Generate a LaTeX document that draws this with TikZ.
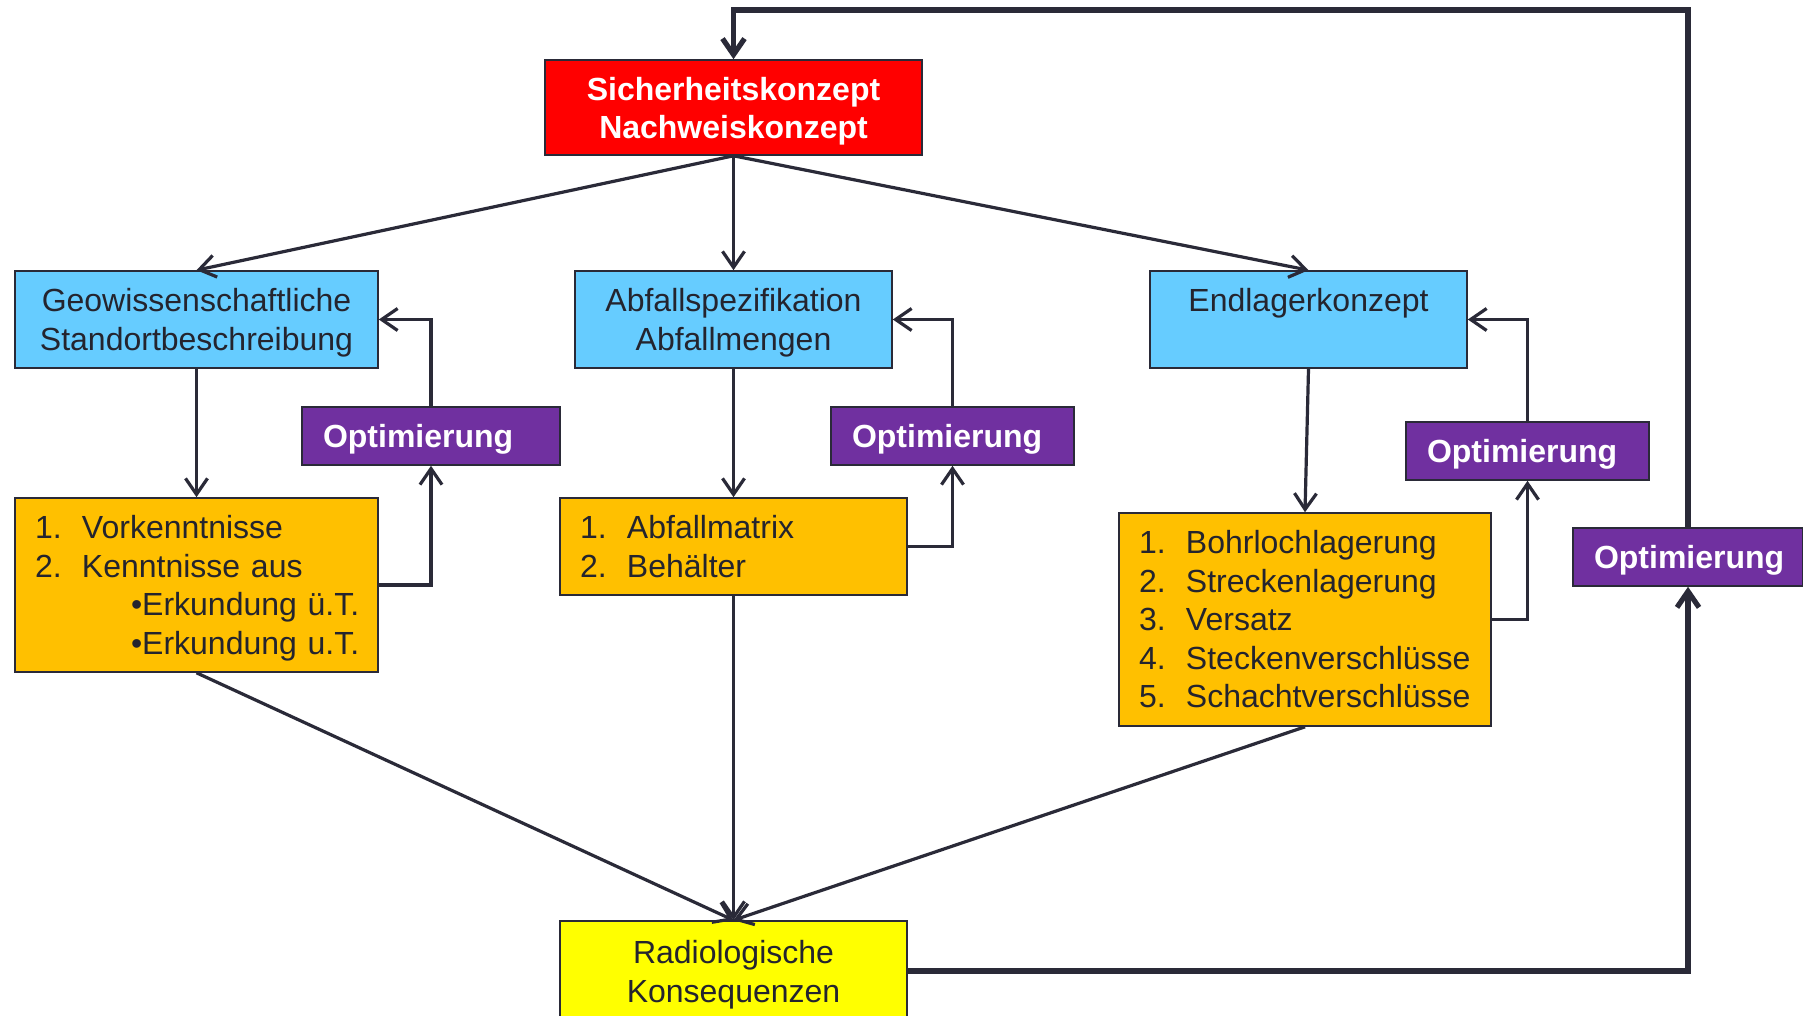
\documentclass[tikz,border=0pt]{standalone}
\usepackage{fontspec}
\setmainfont{Liberation Sans}
\usetikzlibrary{arrows.meta}
\definecolor{ln}{HTML}{2A2A38}
\definecolor{tx}{HTML}{24242E}
\definecolor{cred}{HTML}{FF0000}
\definecolor{cblue}{HTML}{66CCFF}
\definecolor{corange}{HTML}{FFC000}
\definecolor{cyellow}{HTML}{FFFF00}
\definecolor{cpurple}{HTML}{7030A0}
\hyphenpenalty=10000
\exhyphenpenalty=10000
\begin{document}
\begin{tikzpicture}[x=0.5pt,y=-0.5pt,
  box/.style={draw=ln, line width=0.8pt, inner ysep=0pt, align=center,
    font=\fontsize{16}{19.5}\selectfont, text=tx},
  redbox/.style={box, fill=cred, text=white, font=\fontsize{16}{19}\selectfont\bfseries,
    text depth=0pt, minimum width=188.5pt, minimum height=47.5pt},
  bluebox/.style={box, fill=cblue, text depth=0pt, minimum height=48.5pt},
  orangebox/.style={box, fill=corange, align=left, inner xsep=10pt,
    font=\fontsize{16}{19.25}\selectfont},
  yellowbox/.style={box, fill=cyellow, text depth=0pt, minimum width=173.5pt, minimum height=50pt},
  purplebox/.style={box, fill=cpurple, text=white, align=left, inner xsep=10.5pt, text depth=0pt,
    font=\fontsize{16}{19}\selectfont\bfseries, minimum height=29pt},
  conn/.style={draw=ln, line width=1.6pt, -{Straight Barb[length=8pt,width=11pt,line width=1.6pt]}},
  thickconn/.style={draw=ln, line width=2.6pt, -{Straight Barb[length=8pt,width=11pt,line width=2.6pt]}},
]
\clip (0,0) rectangle (1803,1016);
\fill[white] (0,0) rectangle (1803,1016);

% top
\node[redbox] (red) at (733.5,107.5) {Sicherheitskonzept\\Nachweiskonzept};

% blue row
\node[bluebox, minimum width=181.5pt] (b1) at (196.5,319.5) {Geowissenschaftliche\\Standortbeschreibung};
\node[bluebox, minimum width=158.5pt] (b2) at (733.5,319.5) {Abfallspezifikation\\Abfallmengen};
\node[bluebox, minimum width=158.5pt] (b3) at (1308.5,319.5) {Endlagerkonzept\\\strut};

% purple
\node[purplebox, text width=108pt] (p1) at (431,436) {Optimierung};
\node[purplebox, text width=100.5pt] (p2) at (952.5,436) {Optimierung};
\node[purplebox, text width=100.5pt] (p3) at (1527.5,451) {Optimierung};
\node[purplebox, text width=94pt] (p4) at (1688,557) {Optimierung};

% orange
\node[orangebox, text width=161.5pt, minimum height=87pt, text depth=57.75pt] (o1) at (196.5,585)
  {\makebox[23.5pt][l]{1.}Vorkenntnisse\\
   \makebox[23.5pt][l]{2.}Kenntnisse aus\\
   \hspace*{48pt}\mbox{•Erkundung ü.T.}\\
   \hspace*{48pt}\mbox{•Erkundung u.T.}};
\node[orangebox, text width=153.5pt, minimum height=48.5pt] (o2) at (733.5,546.5)
  {\makebox[23.5pt][l]{1.}Abfallmatrix\\
   \makebox[23.5pt][l]{2.}Behälter};
\node[orangebox, text width=166pt, minimum height=106.5pt] (o3) at (1305,619.5)
  {\makebox[23.5pt][l]{1.}Bohrlochlagerung\\
   \makebox[23.5pt][l]{2.}Streckenlagerung\\
   \makebox[23.5pt][l]{3.}Versatz\\
   \makebox[23.5pt][l]{4.}Steckenverschlüsse\\
   \makebox[23.5pt][l]{5.}Schachtverschlüsse};

% yellow
\node[yellowbox] (y) at (733.5,971) {Radiologische\\Konsequenzen};

\coordinate (loop) at (1690,10);

% connectors
\draw[conn] (red.south) -- (b1.north);
\draw[conn] (red.south) -- (b2.north);
\draw[conn] (red.south) -- (b3.north);
\draw[conn] (b1.south) -- (o1.north);
\draw[conn] (b2.south) -- (o2.north);
\draw[conn] (b3.south) -- (o3.north);
\draw[conn] (o1.east) -| (p1.south);
\draw[conn] (p1.north) |- (b1.east);
\draw[conn] (o2.east) -| (p2.south);
\draw[conn] (p2.north) |- (b2.east);
\draw[conn] (o3.east) -| (p3.south);
\draw[conn] (p3.north) |- (b3.east);
\draw[conn] (o1.south) -- (y.north);
\draw[conn] (o2.south) -- (y.north);
\draw[conn] (o3.south) -- (y.north);
\draw[thickconn] (y.east) -| (p4.south);
\draw[thickconn] (p4.north) -- (p4.north |- loop) -| (red.north);
\end{tikzpicture}
\end{document}
